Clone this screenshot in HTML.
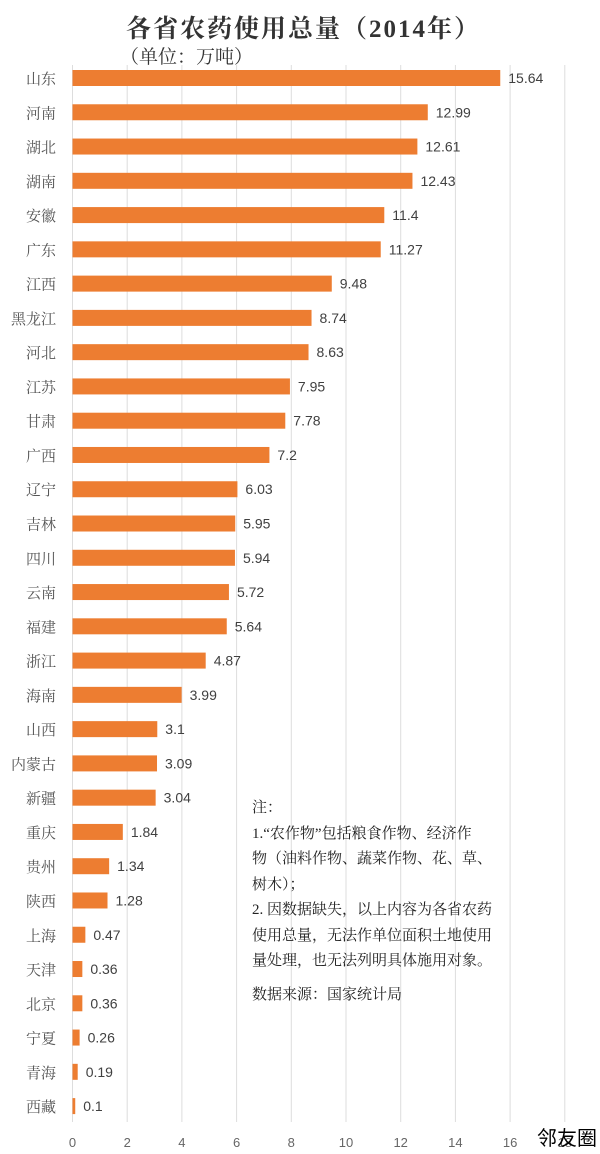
<!DOCTYPE html>
<html><head><meta charset="utf-8"><style>
body{margin:0;width:600px;height:1154px;background:#fff;overflow:hidden;position:relative;font-family:"Liberation Sans","Noto Sans CJK SC",sans-serif}
.t{position:absolute;white-space:nowrap}
.note{position:absolute;left:252px;top:796px;font-family:"Liberation Serif","Noto Serif CJK SC",serif;font-size:15px;line-height:25.5px;color:#222}
</style></head><body>
<div class="t" style="left:126px;top:9px;font-family:'Liberation Serif','Noto Serif CJK SC',serif;font-size:25px;color:#333;font-weight:bold;letter-spacing:2px">各省农药使用总量（2014年）</div>
<div class="t" style="left:120px;top:42px;font-family:'Liberation Serif','Noto Serif CJK SC',serif;font-size:19px;color:#333">（单位：万吨）</div>
<svg width="600" height="1154" style="position:absolute;left:0;top:0" id="s"></svg>
<div class="note">注：<br>1.“农作物”包括粮食作物、经济作<br>物（油料作物、蔬菜作物、花、草、<br>树木）；<br>2. 因数据缺失，以上内容为各省农药<br>使用总量，无法作单位面积土地使用<br>量处理，也无法列明具体施用对象。<br><span style="display:block;height:8px"></span>数据来源：国家统计局</div>
<div class="t" style="left:537px;top:1122px;font-size:20px;color:#000">邻友圈</div>
<script>
var d=[["山东",15.64],["河南",12.99],["湖北",12.61],["湖南",12.43],["安徽",11.4],["广东",11.27],["江西",9.48],["黑龙江",8.74],["河北",8.63],["江苏",7.95],["甘肃",7.78],["广西",7.2],["辽宁",6.03],["吉林",5.95],["四川",5.94],["云南",5.72],["福建",5.64],["浙江",4.87],["海南",3.99],["山西",3.1],["内蒙古",3.09],["新疆",3.04],["重庆",1.84],["贵州",1.34],["陕西",1.28],["上海",0.47],["天津",0.36],["北京",0.36],["宁夏",0.26],["青海",0.19],["西藏",0.1]];
var s='',x0=72.5,k=27.35;
for(var i=0;i<=9;i++){var x=x0+i*2*k;s+='<line x1="'+x+'" y1="65" x2="'+x+'" y2="1122" stroke="#ddd" stroke-width="1"/>';s+='<text x="'+x+'" y="1147" font-size="13" fill="#666" text-anchor="middle">'+(i*2)+'</text>';}
for(var i=0;i<d.length;i++){var c=78+i*34.27,w=d[i][1]*k;
s+='<rect x="'+x0+'" y="'+(c-8)+'" width="'+w+'" height="16" fill="#ed7d31"/>';
s+='<text x="'+(x0+w+8)+'" y="'+(c+5)+'" font-size="14" fill="#404040">'+d[i][1]+'</text>';
s+='<text x="56" y="'+(c+6)+'" font-size="15" fill="#555" text-anchor="end" font-family="Liberation Serif,Noto Serif CJK SC,serif">'+d[i][0]+'</text>';}
document.getElementById('s').innerHTML=s;
</script>
</body></html>
